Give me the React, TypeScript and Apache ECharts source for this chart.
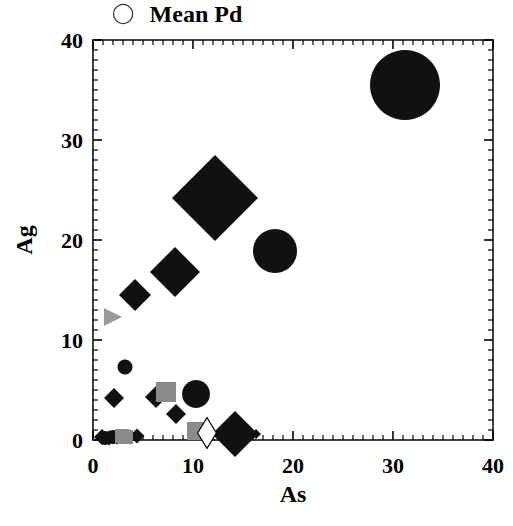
import React, { useEffect, useRef } from "react";
import * as echarts from "echarts";

// [As, Ag, marker size]
const blackDiamonds: number[][] = [
  [12.2, 24.2, 86],
  [8.2, 16.8, 50],
  [4.2, 14.5, 32],
  [2.1, 4.2, 20],
  [6.3, 4.3, 22],
  [8.3, 2.6, 20],
  [14.2, 0.6, 46],
  [16.3, 0.6, 10],
  [0.9, 0.3, 16],
  [1.6, 0.2, 15],
  [2.4, 0.3, 15],
  [3.7, 0.3, 15],
  [4.4, 0.4, 15],
];
const blackCircles: number[][] = [
  [31.2, 35.5, 70],
  [18.2, 18.9, 44],
  [3.2, 7.3, 15],
  [10.3, 4.6, 28],
  [1.2, 0.2, 14],
  [2.0, 0.3, 14],
];
const graySquares: number[][] = [
  [7.3, 4.8, 20],
  [10.3, 0.9, 18],
  [2.9, 0.4, 14],
  [3.3, 0.3, 14],
];
const grayTriangles: number[][] = [[2.0, 12.3, 18]];
const openDiamonds: number[][] = [[11.4, 0.7, 22]];

const xTicks = { min: 0, max: 40, interval: 10 };
const yTicks = { min: 0, max: 40, interval: 10 };
const minorStep = 1;
const legendNames = ["Mean Pd"];

const FONT = "Liberation Serif";

export default function App() {
  const ref = useRef<HTMLDivElement>(null);
  useEffect(() => {
    if (!ref.current) return;
    const chart = echarts.init(ref.current, null, { renderer: "svg" });
    const axisCommon = (show: boolean) => ({
      type: "value" as const,
      splitLine: { show: false },
      axisLine: { show: true, onZero: false, lineStyle: { color: "#000", width: 1.5 } },
      axisTick: { show: false },
      axisLabel: {
        show,
        fontFamily: FONT,
        fontWeight: "bold" as const,
        fontSize: 22,
        color: "#000",
        margin: 14,
      },
    });
    const tickValues: number[][] = [];
    for (let v = xTicks.min; v <= xTicks.max; v += minorStep) tickValues.push([v, 0]);

    const sizeFn = (v: number[]) => v[2];
    chart.setOption({
      animation: false,
      backgroundColor: "#fff",
      grid: { left: 93, right: 20, top: 40, bottom: 86 },
      legend: {
        left: 108,
        top: -3,
        itemWidth: 19,
        itemHeight: 19,
        itemGap: 10,
        textStyle: {
          fontFamily: FONT,
          fontWeight: "bold",
          fontSize: 24,
          color: "#000",
          padding: [0, 0, 0, 12],
        },
        data: [
          {
            name: legendNames[0],
            icon: "circle",
            itemStyle: { color: "#fff", borderColor: "#000", borderWidth: 1.2 },
          },
        ],
      },
      xAxis: [
        {
          ...axisCommon(true),
          ...xTicks,
          position: "bottom",
          name: "As",
          nameLocation: "middle",
          nameGap: 42,
          nameTextStyle: { fontFamily: FONT, fontWeight: "bold", fontSize: 24, color: "#000" },
        },
        { ...axisCommon(false), ...xTicks, position: "top" },
      ],
      yAxis: [
        {
          ...axisCommon(true),
          ...yTicks,
          position: "left",
          axisLabel: { ...axisCommon(true).axisLabel, margin: 10 },
          name: "Ag",
          nameLocation: "middle",
          nameGap: 57,
          nameTextStyle: { fontFamily: FONT, fontWeight: "bold", fontSize: 24, color: "#000" },
        },
        { ...axisCommon(false), ...yTicks, position: "right" },
      ],
      series: [
        {
          name: "Mean Pd",
          type: "scatter",
          data: [],
          itemStyle: { color: "#fff", borderColor: "#000" },
        },
        {
          name: "ticks",
          type: "custom",
          silent: true,
          z: 1,
          data: tickValues,
          renderItem: (_params: any, api: any) => {
            const v = api.value(0);
            const major = v % xTicks.interval === 0;
            const len = major ? 9 : 5;
            const w = major ? 1.6 : 1.2;
            const b = api.coord([v, yTicks.min]);
            const t = api.coord([v, yTicks.max]);
            const l = api.coord([xTicks.min, v]);
            const r = api.coord([xTicks.max, v]);
            const st = { stroke: "#000", lineWidth: w };
            return {
              type: "group",
              children: [
                { type: "line", shape: { x1: b[0], y1: b[1], x2: b[0], y2: b[1] - len }, style: st },
                { type: "line", shape: { x1: t[0], y1: t[1], x2: t[0], y2: t[1] + len }, style: st },
                { type: "line", shape: { x1: l[0], y1: l[1], x2: l[0] + len, y2: l[1] }, style: st },
                { type: "line", shape: { x1: r[0], y1: r[1], x2: r[0] - len, y2: r[1] }, style: st },
              ],
            };
          },
        },
        {
          name: "black diamonds",
          type: "scatter",
          symbol: "diamond",
          symbolSize: sizeFn,
          data: blackDiamonds,
          z: 2,
          itemStyle: { color: "#111", opacity: 1 },
        },
        {
          name: "black circles",
          type: "scatter",
          symbol: "circle",
          symbolSize: sizeFn,
          data: blackCircles,
          z: 2,
          itemStyle: { color: "#111", opacity: 1 },
        },
        {
          name: "gray squares",
          type: "scatter",
          symbol: "rect",
          symbolSize: sizeFn,
          data: graySquares,
          z: 3,
          itemStyle: { color: "#8a8a8a", opacity: 1 },
        },
        {
          name: "gray triangles",
          type: "scatter",
          symbol: "triangle",
          symbolRotate: -90,
          symbolSize: sizeFn,
          data: grayTriangles,
          z: 3,
          itemStyle: { color: "#9a9a9a", opacity: 1 },
        },
        {
          name: "open diamonds",
          type: "scatter",
          symbol: "diamond",
          symbolSize: (v: number[]) => [v[2] * 0.85, v[2] * 1.4],
          data: openDiamonds,
          z: 3,
          itemStyle: { color: "#fff", borderColor: "#000", borderWidth: 1.2, opacity: 1 },
        },
      ],
    });
    return () => chart.dispose();
  }, []);
  return (
    <div
      ref={ref}
      style={{ position: "absolute", left: 0, top: 0, width: 513, height: 526, background: "#fff" }}
    />
  );
}
